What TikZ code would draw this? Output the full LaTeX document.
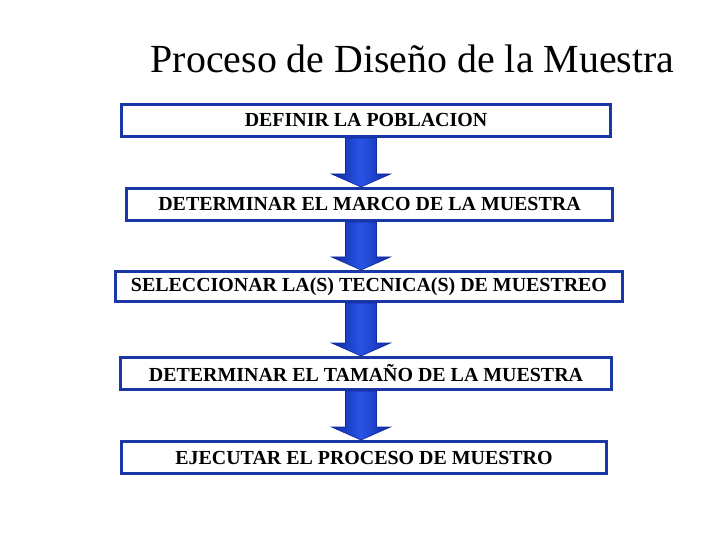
\documentclass[tikz,border=0pt]{standalone}
\usepackage{fontspec}
\setmainfont{Liberation Serif}
\usetikzlibrary{positioning, calc}

\definecolor{azulborde}{RGB}{25,55,165}
\definecolor{azulosc}{RGB}{15,40,160}
\definecolor{azulclaro}{RGB}{40,85,230}

\tikzset{
  paso/.style={draw=azulborde, line width=3bp, fill=white, minimum height=32bp,
    inner sep=0pt, font=\fontsize{20}{22}\selectfont\bfseries},
  flecha/.style={draw=azulosc, line width=0.6bp, left color=azulosc,
    right color=azulosc, middle color=azulclaro},
  titulo/.style={font=\fontsize{40}{44}\selectfont}
}

% flecha gruesa de un paso al siguiente
\newcommand{\flecha}[2]{%
  \path[flecha] ($(#1.south -| eje)+(-15.5,0)$) -- ($(#1.south -| eje)+(15.5,0)$)
    -- ($(#2.north -| eje)+(15.5,-13)$) -- ($(#2.north -| eje)+(29.5,-13)$)
    -- (#2.north -| eje) -- ($(#2.north -| eje)+(-29.5,-13)$)
    -- ($(#2.north -| eje)+(-15.5,-13)$) -- cycle;}

\begin{document}
\begin{tikzpicture}[x=1bp, y=-1bp]
    \useasboundingbox[fill=white] (0,0) rectangle (720,540);

    % Titulo
    \node[titulo, anchor=base] (titulo) at (412.5,73) {Proceso de Diseño de la Muestra};

    % Pasos
    \node[paso, minimum width=489bp] (p1) at (366,120.5) {DEFINIR LA POBLACION};
    \node[paso, minimum width=486bp] (p2) at (369.5,204.5) {DETERMINAR EL MARCO DE LA MUESTRA};
    \node[paso, minimum width=507bp, minimum height=30bp] (p3) at (369,286.5) {SELECCIONAR LA(S) TECNICA(S) DE MUESTREO};
    \node[paso, minimum width=490bp] (p4) at (366,373.5) {DETERMINAR EL TAMAÑO DE LA MUESTRA};
    \node[paso, minimum width=485bp] (p5) at (364,457.5) {EJECUTAR EL PROCESO DE MUESTRO};

    % Flechas
    \coordinate (eje) at (361,0);
    \flecha{p1}{p2}
    \flecha{p2}{p3}
    \flecha{p3}{p4}
    \flecha{p4}{p5}

\end{tikzpicture}
\end{document}
